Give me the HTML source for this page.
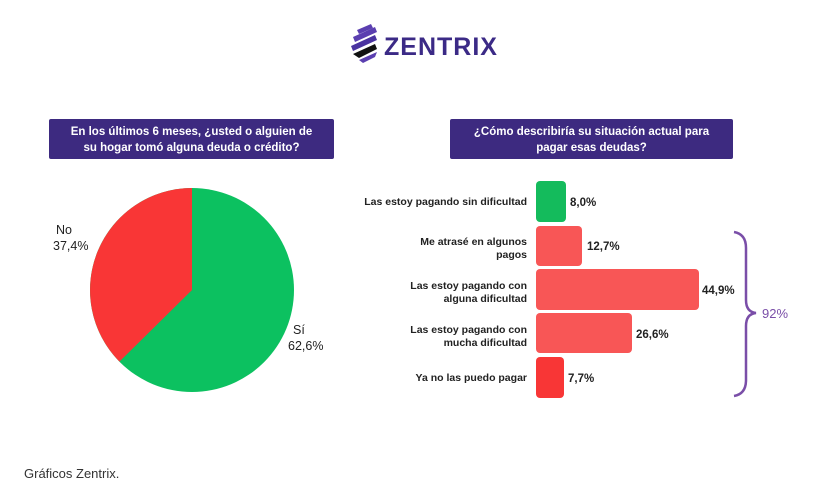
<!DOCTYPE html>
<html><head><meta charset="utf-8"><style>
body{margin:0;width:815px;height:487px;background:#fff;overflow:hidden;font-family:"Liberation Sans",sans-serif;}
</style></head><body>
<svg width="815" height="487" viewBox="0 0 815 487" xmlns="http://www.w3.org/2000/svg" font-family="Liberation Sans, sans-serif">
<g transform="translate(349,24)">
<path d="M8 6 L22 0 L24 4 L10 10 Z" fill="#5b3fb0"/>
<path d="M4 13 L26 3 L28 8 L6 18 Z" fill="#5b3fb0"/>
<path d="M2 22 L26 11 L28 16 L4 27 Z" fill="#4a33a0"/>
<path d="M4 30 L26 20 L28 25 L10 34 Z" fill="#111"/>
<path d="M10 36 L28 28 L26 33 L14 39 Z" fill="#5b3fb0"/>
</g>
<text x="384" y="55" font-size="25" font-weight="bold" fill="#3b2a86" letter-spacing="1">ZENTRIX</text>
<rect x="49" y="119" width="285" height="40" rx="2" fill="#3d2a80"/>
<text x="191.5" y="135" font-size="11.5" font-weight="bold" fill="#fff" text-anchor="middle">En los últimos 6 meses, ¿usted o alguien de</text>
<text x="191.5" y="151" font-size="11.5" font-weight="bold" fill="#fff" text-anchor="middle">su hogar tomó alguna deuda o crédito?</text>
<rect x="450" y="119" width="283" height="40" rx="2" fill="#3d2a80"/>
<text x="591.5" y="135" font-size="11.5" font-weight="bold" fill="#fff" text-anchor="middle">¿Cómo describiría su situación actual para</text>
<text x="591.5" y="151" font-size="11.5" font-weight="bold" fill="#fff" text-anchor="middle">pagar esas deudas?</text>
<circle cx="192" cy="290" r="102" fill="#0cc160"/>
<path d="M192 290 L192 188 A102 102 0 0 0 119.4 361.6 Z" fill="#f93636"/>
<text x="56" y="234" font-size="12.5" fill="#222">No</text>
<text x="53" y="250" font-size="12.5" fill="#222">37,4%</text>
<text x="293" y="334" font-size="12.5" fill="#222">Sí</text>
<text x="288" y="350" font-size="12.5" fill="#222">62,6%</text>
<g font-size="10.5" font-weight="bold" fill="#222" text-anchor="end">
<text x="527" y="205">Las estoy pagando sin dificultad</text>
<text x="527" y="245">Me atrasé en algunos</text><text x="527" y="258">pagos</text>
<text x="527" y="289">Las estoy pagando con</text><text x="527" y="302">alguna dificultad</text>
<text x="527" y="333">Las estoy pagando con</text><text x="527" y="346">mucha dificultad</text>
<text x="527" y="381">Ya no las puedo pagar</text>
</g>
<rect x="536" y="181" width="30" height="41" rx="4" fill="#14bb5c"/>
<rect x="536" y="226" width="46" height="40" rx="4" fill="#f85656"/>
<rect x="536" y="269" width="163" height="41" rx="4" fill="#f85656"/>
<rect x="536" y="313" width="96" height="40" rx="4" fill="#f85656"/>
<rect x="536" y="357" width="28" height="41" rx="4" fill="#f83636"/>
<g font-size="11.5" font-weight="bold" fill="#222">
<text x="570" y="206">8,0%</text>
<text x="587" y="250">12,7%</text>
<text x="702" y="294">44,9%</text>
<text x="636" y="338">26,6%</text>
<text x="568" y="382">7,7%</text>
</g>
<path d="M734 232 Q746 234 746 248 L746 300 Q746 312 756 313 Q746 314 746 326 L746 380 Q746 394 734 396" fill="none" stroke="#7a4ea8" stroke-width="2.5"/>
<text x="762" y="318" font-size="13" fill="#7a4ea8">92%</text>
<text x="24" y="478" font-size="13" fill="#333">Gráficos Zentrix.</text>
</svg>
</body></html>
